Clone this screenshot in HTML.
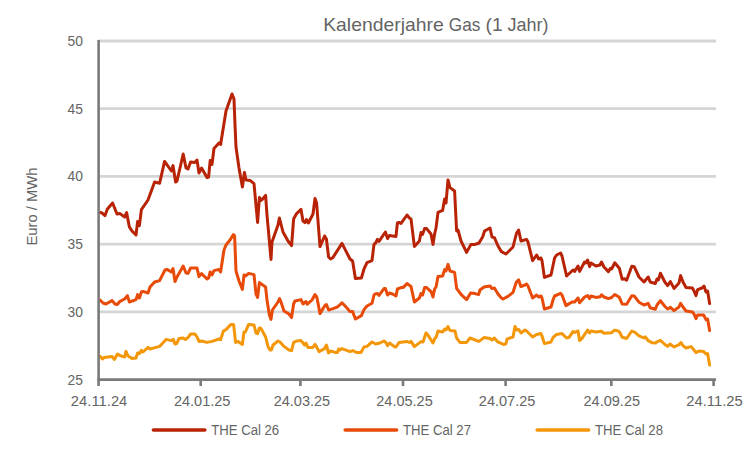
<!DOCTYPE html>
<html><head><meta charset="utf-8"><title>Kalenderjahre Gas (1 Jahr)</title>
<style>html,body{margin:0;padding:0;background:#fff}body{width:750px;height:450px;overflow:hidden}svg{display:block}text{font-family:"Liberation Sans",sans-serif;fill:#646464}</style></head><body>
<svg width="750" height="450" viewBox="0 0 750 450">
<rect width="750" height="450" fill="#ffffff"/>
<line x1="98" y1="41" x2="716" y2="41" stroke="#D5D5D5" stroke-width="2.8"/>
<line x1="98" y1="108.6" x2="716" y2="108.6" stroke="#D5D5D5" stroke-width="2.8"/>
<line x1="98" y1="176.3" x2="716" y2="176.3" stroke="#D5D5D5" stroke-width="2.8"/>
<line x1="98" y1="244.1" x2="716" y2="244.1" stroke="#D5D5D5" stroke-width="2.8"/>
<line x1="98" y1="311.9" x2="716" y2="311.9" stroke="#D5D5D5" stroke-width="2.8"/>
<polyline fill="none" stroke="#F39708" stroke-width="3" stroke-linejoin="round" stroke-linecap="round" points="100,356.4 102.6,359 104,357.6 112,356.6 114.4,359.4 117.4,354 120,355.6 124.6,357 126,351.4 128,356 132,358.4 136,358 137.6,353 139.4,353.6 141.4,350.4 143,352 148,347.4 150,349 155,347.6 159.6,346.4 166,339.4 171.4,340.6 173.4,339.4 175,344 176.6,343.6 179,338.6 183.2,338 185.4,339.4 188,337.6 190.6,334 195,334 197,337 199,341.4 201.6,341 207,342.4 212,341.4 219,339 220.6,339.6 223.4,331 226,329.6 231,324.4 233.6,324.6 235.6,342.4 238,341.4 242.4,344.4 244,332 245.4,332 248.6,324.4 254,325 256,333 257.6,333.6 259.4,328 261,328.4 265.6,337 268,346.4 270,350 271.4,350 273,345 278,341 280,342 284,346.4 289,350 291.6,350.6 293.6,342.4 296.6,341 301,340.6 303,343 304.6,345 306,343 308,347.4 312.6,347.6 315,344.4 316.6,347 319,351.6 324.6,348.6 326.4,345 328.6,353 330.6,351 336,352.6 337.4,352.4 338.6,349 340,350 342,348.6 350,351.6 352.6,350.6 357,352.6 361,352.4 364,347 367,346.4 372,342 375.6,344 380,343 384,341 385.4,342 387.6,345.6 389.4,343 395,347 396,347 399,342.6 407,341.6 409.4,342.4 411,341.4 414.4,346.6 421,341.6 423,342 426,333 427.4,334.4 433,343 435,338 436,337.6 438,331 442.6,332 444.6,329 446,330 448,326.6 450,330.4 455,331 456.6,338 460,342.4 466.6,342.4 470,338 478.6,341.4 480,340.6 484,337.6 490,338.6 492,340 494.4,338 497.4,341.6 504,344.6 506,343.6 507,339 513,337 515,326.4 516.6,330 518.6,329.4 521,333 525,330 526.6,331 532.6,337 536.6,334.4 541,333.6 542,336 544.4,343.6 551,342 553,337.6 556.6,334.4 562,333.6 566.6,338 569,337.4 573,331.6 574.6,332.4 578,331 579.6,340.6 582,338.4 587.6,330 589.6,333 591,331 596,332 601.4,331.2 604,333.2 611.6,332.8 614.2,330.2 617,330.4 619.5,332 622.2,337.3 626.6,338.5 631.8,331 635,332.4 639,335.8 644,338 645.3,336.8 648.2,340.7 652.4,342.8 655.6,343 657,341.8 660.4,340.3 665,344.5 667.6,346.4 670,344 674,347 679,344.6 681,342.6 683,345.6 686,348 691,346.6 694,350 696,352.6 699,351 703.6,351.4 706,354 707.6,353.6 709.6,365"/>
<polyline fill="none" stroke="#E84A08" stroke-width="3" stroke-linejoin="round" stroke-linecap="round" points="100,300 103,303 106,304 112,300.6 115,304 117,304.6 120,301.4 124.6,299 127.4,295.6 129.4,302 136,299.6 137.6,294.6 139.4,298 141.4,292 143,291.4 148,293 150,287 154.6,282 159.6,280.6 165,270 167,269.4 171.4,272 173,268.6 175,281.6 177,277 183.2,266 186,273 188,273.4 190.6,268 197,268 199,276.6 201.6,273.6 207,279 208.6,278 210.2,272 212,275 214,270.6 219,269.4 220.6,272 224,250 226,245 230,240 233.4,234.6 234.6,236 236,271 239,281 242.4,289.4 244,275 245.4,276 248.6,273.4 254,274.6 256,294 257.6,297.4 259.4,282.6 265.6,287 267,300 269.4,315 271,319.4 272.4,310 278,302 279.6,298.6 281,302 284,311 289,314 291.6,317.6 293.6,304 295,301 301,299.6 303,304 306,301.5 307.4,304.2 312,300 315,294.6 316.6,296.6 317.4,300 320,313.6 324.6,306 326.4,304.5 328.6,310 333,308.6 337.4,307 342,302.8 347,308 350,311.6 352.6,311.6 355.4,319 361.4,315.6 364,309.6 367,306 372,303.3 374,295 375,294 377.4,293.6 379,295.3 384,288.6 385.4,288.5 387.6,295 389.4,293 392.6,294 396,296 397.4,289 401,287.6 403,287.6 407,283.6 411,286.4 414.4,302 419.4,298 421,293.6 422.6,295 424.6,287.6 426.6,287.6 431,291.6 433,297 434.6,289 436,287 438,276.6 442.6,276 444.6,269.6 446,271 448,264.4 450,271 454.6,272.4 456.6,288.4 461,294.4 466.6,299.6 470.6,293 475,293.6 478.6,294.6 480,290 484,287 490,286 492,288.6 494.4,288 498,294 501.4,298 503,299 508,296.4 513,292.4 516.3,282.2 518.6,279.8 520.8,286.5 525,285 526.6,284 528,286 532.6,298 536.6,295 538.6,297 541,296 542,298 544.4,309 551,307 553,300 554.6,296 560.6,293.4 562,295 566,305.6 572,302 574.6,302 578,298 579.6,302.8 584.6,297 587.6,295.6 589.6,298.6 591,296 596,297.4 600,296.8 601.5,294.8 604,297 608.4,298.6 611.6,297.5 614.8,294.5 619.3,297.3 622.2,304 626.6,304.2 631.8,295.7 634.2,296 639,302.2 644,305 648.2,303.3 650.2,307.8 655.3,309.3 657,305 660.4,300.7 665,306.5 667.6,309 670.4,307.4 674,310.6 679,307 680.6,303.4 683,307 686,311 692.4,312 694,314 696,318.6 697.6,315 703.6,315 706,319.6 707.6,319 709.6,330.4"/>
<polyline fill="none" stroke="#B82306" stroke-width="3" stroke-linejoin="round" stroke-linecap="round" points="100,212.4 102,213 105,215.6 107.4,209 112.6,203 117,214 120,213.6 124.6,217 126.6,212.6 129.4,227 132,231 136,235 137.6,221.6 139.4,225.6 141.4,209.6 148,200 154.6,182 159.6,183.2 164.6,161.4 171.4,171 173,165.6 175.6,182 177,181 183.2,154 186,168 188,169 190.6,162 195,162.4 197,160 199,173 201.6,168 207,177.6 208.6,177 210.2,160.4 212,164.4 214,148.4 219,143 220.6,144.4 226,111 232,94 234,99 235,125 236,147 239,168 242.4,187 244.4,172.4 246,180 250,180.4 254,183.6 257.6,222.4 259.4,197.6 261,200.4 262.6,199 265.6,195.4 267,215 271,259.4 272,242 278,225 279.4,218 283,232 288,241 291.6,245.6 293.6,219 296.6,213.6 301,209.4 303,221 305,222.6 306.4,219.6 308.4,223 313,214 315,198.4 316.6,203 320,246.6 324.6,236 326.4,239 328.6,257 330.6,259 333,257.4 342,243.4 350,259 352.6,261 355.4,278.6 361.4,278 364,269 367,262.6 372,260.6 374,244.4 375.6,243 377.4,239.4 379,241.4 385.4,232 387.6,238.6 389.4,235.6 396,236.4 397.4,223 399,222.4 401,223.4 407,215 409.4,218 411,219 414.4,246.4 419.4,241 421,232.4 422.6,234.4 424.6,228.4 426.6,228.6 431,234 433,244.4 434.6,234 436,228 438,212.4 442.6,210.4 444.6,199 446,203 448,180 450,187.6 454.6,191 456.6,231 458,230 461,241 466.6,252.4 471,244.4 475,244.4 479,243 482.6,237 484.6,231 490,228 492,237 494.4,237.6 498,246 501.4,251.6 506,254 513,247 516.6,233 518.6,230 521,241 526.6,239.4 528,242 532.6,260.6 536.6,255 538.6,259 541,258 542,260.6 544.4,277.4 551,275 554.6,258 556.6,255 560.6,253 562,256 566.6,276 573,270 574.6,271.4 578,266 579.6,271.4 584.6,262 586,263 587.6,260 589.6,266.6 591,263 596,266 600,265 601.5,262 604,267 608.4,271.6 610.5,268.3 611.6,269 614.8,262.8 619.3,268.2 622.2,279.3 624.5,278.8 626.6,280.2 631.8,266.3 634.2,266.7 639,277 644,282 648.2,277 650.2,282 655.3,283.5 657,279 658.4,280 660.4,273.3 665,282.3 667.6,285.6 670.4,281.6 674,288.4 679,283 680.6,275.6 683,282 686,287.4 692.4,288 694,291 696,295.6 697.6,289.6 702,288 704,286 706,292 707.6,291 709.6,303.6"/>
<line x1="98.6" y1="40" x2="98.6" y2="386" stroke="#7A7A7A" stroke-width="2.6"/>
<line x1="97.3" y1="379.6" x2="716" y2="379.6" stroke="#7A7A7A" stroke-width="2.6"/>
<line x1="200.7" y1="379.6" x2="200.7" y2="386" stroke="#7A7A7A" stroke-width="2.6"/>
<line x1="300.4" y1="379.6" x2="300.4" y2="386" stroke="#7A7A7A" stroke-width="2.6"/>
<line x1="403" y1="379.6" x2="403" y2="386" stroke="#7A7A7A" stroke-width="2.6"/>
<line x1="505.6" y1="379.6" x2="505.6" y2="386" stroke="#7A7A7A" stroke-width="2.6"/>
<line x1="611.3" y1="379.6" x2="611.3" y2="386" stroke="#7A7A7A" stroke-width="2.6"/>
<line x1="713.6" y1="379.6" x2="713.6" y2="386" stroke="#7A7A7A" stroke-width="2.6"/>
<text x="83" y="46" font-size="14" text-anchor="end" textLength="15.4" lengthAdjust="spacingAndGlyphs">50</text>
<text x="83" y="113.6" font-size="14" text-anchor="end" textLength="15.4" lengthAdjust="spacingAndGlyphs">45</text>
<text x="83" y="181.3" font-size="14" text-anchor="end" textLength="15.4" lengthAdjust="spacingAndGlyphs">40</text>
<text x="83" y="249.1" font-size="14" text-anchor="end" textLength="15.4" lengthAdjust="spacingAndGlyphs">35</text>
<text x="83" y="316.9" font-size="14" text-anchor="end" textLength="15.4" lengthAdjust="spacingAndGlyphs">30</text>
<text x="83" y="384.6" font-size="14" text-anchor="end" textLength="15.4" lengthAdjust="spacingAndGlyphs">25</text>
<text x="99.1" y="405.9" font-size="14.7" text-anchor="middle" textLength="56.5" lengthAdjust="spacingAndGlyphs">24.11.24</text>
<text x="202.2" y="405.9" font-size="14.7" text-anchor="middle" textLength="56.5" lengthAdjust="spacingAndGlyphs">24.01.25</text>
<text x="301.9" y="405.9" font-size="14.7" text-anchor="middle" textLength="56.5" lengthAdjust="spacingAndGlyphs">24.03.25</text>
<text x="404.5" y="405.9" font-size="14.7" text-anchor="middle" textLength="56.5" lengthAdjust="spacingAndGlyphs">24.05.25</text>
<text x="507.1" y="405.9" font-size="14.7" text-anchor="middle" textLength="56.5" lengthAdjust="spacingAndGlyphs">24.07.25</text>
<text x="611.8" y="405.9" font-size="14.7" text-anchor="middle" textLength="56.5" lengthAdjust="spacingAndGlyphs">24.09.25</text>
<text x="714.5" y="405.9" font-size="14.7" text-anchor="middle" textLength="56.5" lengthAdjust="spacingAndGlyphs">24.11.25</text>
<text x="323.2" y="30.7" font-size="18.6" textLength="120.5" lengthAdjust="spacingAndGlyphs">Kalenderjahre</text>
<text x="448.8" y="30.7" font-size="18.6" textLength="31.5" lengthAdjust="spacingAndGlyphs">Gas</text>
<text x="485.6" y="30.7" font-size="18.6" textLength="17" lengthAdjust="spacingAndGlyphs">(1</text>
<text x="507.6" y="30.7" font-size="18.6" textLength="41" lengthAdjust="spacingAndGlyphs">Jahr)</text>
<text transform="translate(36.6,245.5) rotate(-90)" font-size="14" textLength="78" lengthAdjust="spacingAndGlyphs">Euro / MWh</text>
<line x1="153.4" y1="430" x2="204.8" y2="430" stroke="#B82306" stroke-width="3.6" stroke-linecap="round"/>
<text x="211.2" y="435" font-size="14" textLength="68" lengthAdjust="spacingAndGlyphs">THE Cal 26</text>
<line x1="345.2" y1="430" x2="396.59999999999997" y2="430" stroke="#E84A08" stroke-width="3.6" stroke-linecap="round"/>
<text x="403.0" y="435" font-size="14" textLength="68" lengthAdjust="spacingAndGlyphs">THE Cal 27</text>
<line x1="537.2" y1="430" x2="588.6" y2="430" stroke="#F39708" stroke-width="3.6" stroke-linecap="round"/>
<text x="595.0" y="435" font-size="14" textLength="68" lengthAdjust="spacingAndGlyphs">THE Cal 28</text>
</svg></body></html>
